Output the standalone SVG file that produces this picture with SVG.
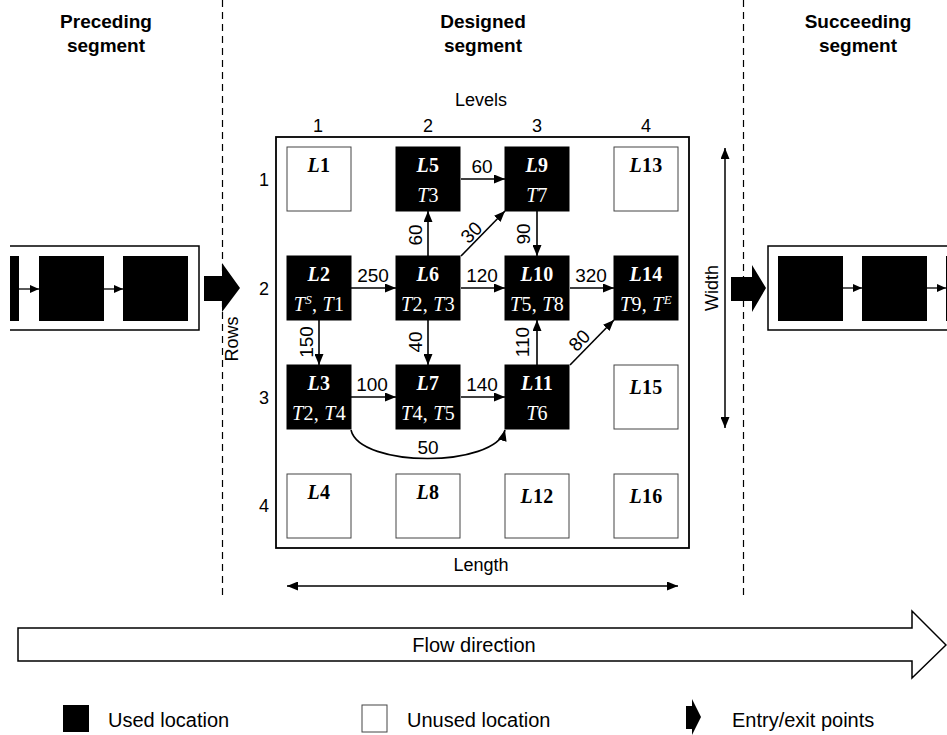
<svg xmlns="http://www.w3.org/2000/svg" width="947" height="735" viewBox="0 0 947 735">
<defs>
<marker id="ah" markerUnits="userSpaceOnUse" markerWidth="11" markerHeight="9" refX="11" refY="4.5" orient="auto-start-reverse"><path d="M0,0 L11,4.5 L0,9 z" fill="#000"/></marker>
<marker id="ahs" markerUnits="userSpaceOnUse" markerWidth="9" markerHeight="8" refX="9" refY="4" orient="auto"><path d="M0,0 L9,4 L0,8 z" fill="#000"/></marker>
<style>
.t{font-family:"Liberation Sans",Arial,sans-serif;fill:#000}
.h{font-size:19px;font-weight:bold;text-anchor:middle}
.n{font-size:18px;text-anchor:middle}
.e{font-size:19px;text-anchor:middle}
.m{font-family:"Liberation Serif","Times New Roman",serif;font-size:20px;text-anchor:middle;letter-spacing:0.3px}
.b{font-weight:bold;font-style:italic}
.i{font-style:italic}
.used rect{fill:#000;stroke:#000;stroke-width:1}
.used text{fill:#fff}
.unused rect{fill:#fff;stroke:#444;stroke-width:1}
.unused text{fill:#000}
.c{fill:none;stroke:#000;stroke-width:1.6;marker-end:url(#ah)}
.dash{stroke:#000;stroke-width:1.2;stroke-dasharray:7,5;fill:none}
</style>
</defs>
<rect width="947" height="735" fill="#fff"/>

<!-- headers -->
<text class="t h" x="106" y="28">Preceding</text>
<text class="t h" x="106" y="52">segment</text>
<text class="t h" x="483" y="28">Designed</text>
<text class="t h" x="483" y="52">segment</text>
<text class="t h" x="858" y="28">Succeeding</text>
<text class="t h" x="858" y="52">segment</text>

<line class="dash" x1="222.5" y1="0" x2="222.5" y2="600"/>
<line class="dash" x1="743.5" y1="0" x2="743.5" y2="600"/>

<!-- axis labels -->
<text class="t n" x="481" y="106">Levels</text>
<text class="t n" x="318" y="132">1</text>
<text class="t n" x="428" y="132">2</text>
<text class="t n" x="537" y="132">3</text>
<text class="t n" x="646" y="132">4</text>
<text class="t n" x="264" y="186">1</text>
<text class="t n" x="264" y="295">2</text>
<text class="t n" x="264" y="404">3</text>
<text class="t n" x="264" y="512">4</text>
<text class="t n" transform="translate(238,339) rotate(-90)">Rows</text>
<text class="t n" transform="translate(718,288) rotate(-90)">Width</text>
<text class="t n" x="481" y="571">Length</text>

<!-- main box -->
<rect x="276" y="137" width="413" height="411" fill="none" stroke="#000" stroke-width="1.8"/>

<!-- dimension arrows -->
<line x1="725" y1="148" x2="725" y2="428" stroke="#000" stroke-width="1.5" marker-start="url(#ah)" marker-end="url(#ah)"/>
<line x1="287" y1="586" x2="678" y2="586" stroke="#000" stroke-width="1.5" marker-start="url(#ah)" marker-end="url(#ah)"/>

<!-- nodes -->
<g id="L1" class="unused"><rect x="287" y="147" width="64" height="64"/><text class="m" x="319" y="172"><tspan class="b">L</tspan><tspan font-weight="bold">1</tspan></text></g>
<g id="L2" class="used"><rect x="287" y="256" width="64" height="64"/><text class="m" x="319" y="281"><tspan class="b">L</tspan><tspan font-weight="bold">2</tspan></text><text class="m" x="319" y="311"><tspan class="i">T</tspan><tspan class="i" font-size="13" dy="-7">S</tspan><tspan dy="7">, </tspan><tspan class="i">T</tspan>1</text></g>
<g id="L3" class="used"><rect x="287" y="365" width="64" height="64"/><text class="m" x="319" y="390"><tspan class="b">L</tspan><tspan font-weight="bold">3</tspan></text><text class="m" x="319" y="420"><tspan class="i">T</tspan>2, <tspan class="i">T</tspan>4</text></g>
<g id="L4" class="unused"><rect x="287" y="474" width="64" height="64"/><text class="m" x="319" y="499"><tspan class="b">L</tspan><tspan font-weight="bold">4</tspan></text></g>
<g id="L5" class="used"><rect x="396" y="147" width="64" height="64"/><text class="m" x="428" y="172"><tspan class="b">L</tspan><tspan font-weight="bold">5</tspan></text><text class="m" x="428" y="202"><tspan class="i">T</tspan>3</text></g>
<g id="L6" class="used"><rect x="396" y="256" width="64" height="64"/><text class="m" x="428" y="281"><tspan class="b">L</tspan><tspan font-weight="bold">6</tspan></text><text class="m" x="428" y="311"><tspan class="i">T</tspan>2, <tspan class="i">T</tspan>3</text></g>
<g id="L7" class="used"><rect x="396" y="365" width="64" height="64"/><text class="m" x="428" y="390"><tspan class="b">L</tspan><tspan font-weight="bold">7</tspan></text><text class="m" x="428" y="420"><tspan class="i">T</tspan>4, <tspan class="i">T</tspan>5</text></g>
<g id="L8" class="unused"><rect x="396" y="474" width="64" height="64"/><text class="m" x="428" y="499"><tspan class="b">L</tspan><tspan font-weight="bold">8</tspan></text></g>
<g id="L9" class="used"><rect x="505" y="147" width="64" height="64"/><text class="m" x="537" y="172"><tspan class="b">L</tspan><tspan font-weight="bold">9</tspan></text><text class="m" x="537" y="202"><tspan class="i">T</tspan>7</text></g>
<g id="L10" class="used"><rect x="505" y="256" width="64" height="64"/><text class="m" x="537" y="281"><tspan class="b">L</tspan><tspan font-weight="bold">10</tspan></text><text class="m" x="537" y="311"><tspan class="i">T</tspan>5, <tspan class="i">T</tspan>8</text></g>
<g id="L11" class="used"><rect x="505" y="365" width="64" height="64"/><text class="m" x="537" y="390"><tspan class="b">L</tspan><tspan font-weight="bold">11</tspan></text><text class="m" x="537" y="420"><tspan class="i">T</tspan>6</text></g>
<g id="L12" class="unused"><rect x="505" y="474" width="64" height="64"/><text class="m" x="537" y="503"><tspan class="b">L</tspan><tspan font-weight="bold">12</tspan></text></g>
<g id="L13" class="unused"><rect x="614" y="147" width="64" height="64"/><text class="m" x="646" y="172"><tspan class="b">L</tspan><tspan font-weight="bold">13</tspan></text></g>
<g id="L14" class="used"><rect x="614" y="256" width="64" height="64"/><text class="m" x="646" y="281"><tspan class="b">L</tspan><tspan font-weight="bold">14</tspan></text><text class="m" x="646" y="311"><tspan class="i">T</tspan>9, <tspan class="i">T</tspan><tspan class="i" font-size="13" dy="-7">E</tspan></text></g>
<g id="L15" class="unused"><rect x="614" y="365" width="64" height="64"/><text class="m" x="646" y="394"><tspan class="b">L</tspan><tspan font-weight="bold">15</tspan></text></g>
<g id="L16" class="unused"><rect x="614" y="474" width="64" height="64"/><text class="m" x="646" y="503"><tspan class="b">L</tspan><tspan font-weight="bold">16</tspan></text></g>

<!-- connectors -->
<g id="connectors">
<path class="c" d="M351,288 H396"/>
<path class="c" d="M461,288 H505"/>
<path class="c" d="M570,288 H614"/>
<path class="c" d="M461,179 H505"/>
<path class="c" d="M351,397 H396"/>
<path class="c" d="M461,397 H505"/>
<path class="c" d="M428,256 V211"/>
<path class="c" d="M537,211 V256"/>
<path class="c" d="M319,320 V365"/>
<path class="c" d="M428,320 V365"/>
<path class="c" d="M537,365 V320"/>
<path class="c" d="M461,256 L505,211"/>
<path class="c" d="M570,365 L614,320"/>
<path class="c" d="M351,430 C360,468 495,468 505,430"/>
<text class="t e" x="373" y="282">250</text>
<text class="t e" x="482" y="282">120</text>
<text class="t e" x="591" y="282">320</text>
<text class="t e" x="482" y="173">60</text>
<text class="t e" x="372" y="391">100</text>
<text class="t e" x="482" y="391">140</text>
<text class="t e" x="428" y="454">50</text>
<text class="t e" transform="translate(422,235) rotate(-90)">60</text>
<text class="t e" transform="translate(530,234) rotate(-90)">90</text>
<text class="t e" transform="translate(313,342) rotate(-90)">150</text>
<text class="t e" transform="translate(422,342) rotate(-90)">40</text>
<text class="t e" transform="translate(529,342) rotate(-90)">110</text>
<text class="t e" transform="translate(471,232) rotate(-45)" y="7">30</text>
<text class="t e" transform="translate(579,340) rotate(-45)" y="7">80</text>
</g>

<!-- preceding segment -->
<g id="preceding">
<path d="M10,246 H199 V330 H10" fill="none" stroke="#000" stroke-width="1.5"/>
<rect x="10" y="256" width="9" height="65" fill="#000"/>
<rect x="39" y="256" width="65" height="65" fill="#000"/>
<rect x="123" y="256" width="65" height="65" fill="#000"/>
<line x1="19" y1="289" x2="39" y2="289" stroke="#000" stroke-width="1.3" marker-end="url(#ahs)"/>
<line x1="104" y1="289" x2="123" y2="289" stroke="#000" stroke-width="1.3" marker-end="url(#ahs)"/>
</g>
<g id="entry"><path d="M204,276 H222 V263 L240,288 L222,312 V301 H204 z" fill="#000"/></g>

<!-- succeeding segment -->
<g id="succeeding">
<path d="M947,246 H768 V330 H947" fill="none" stroke="#000" stroke-width="1.5"/>
<rect x="778" y="256" width="65" height="65" fill="#000"/>
<rect x="862" y="256" width="65" height="65" fill="#000"/>
<rect x="946" y="256" width="5" height="65" fill="#000"/>
<line x1="843" y1="288" x2="862" y2="288" stroke="#000" stroke-width="1.3" marker-end="url(#ahs)"/>
<line x1="927" y1="288" x2="946" y2="288" stroke="#000" stroke-width="1.3" marker-end="url(#ahs)"/>
</g>
<g id="exit"><path d="M731,277 H752 V265 L766,288 L752,312 V301 H731 z" fill="#000"/></g>

<!-- flow direction -->
<g id="flow">
<path d="M18,628 H912 V611 L946,645 L912,678 V661 H18 z" fill="#fff" stroke="#000" stroke-width="1.5"/>
<text class="t" x="474" y="652" font-size="20" text-anchor="middle">Flow direction</text>
</g>

<!-- legend -->
<g id="legend">
<rect x="63" y="705" width="26" height="27" fill="#000"/>
<text class="t" x="108" y="727" font-size="20">Used location</text>
<rect x="362" y="705" width="25" height="27" fill="#fff" stroke="#444" stroke-width="1"/>
<text class="t" x="407" y="727" font-size="20">Unused location</text>
<path d="M686,706 H692 V699 L701,717 L692,735 V729 H686 z" fill="#000"/>
<text class="t" x="732" y="727" font-size="20">Entry/exit points</text>
</g>
</svg>
